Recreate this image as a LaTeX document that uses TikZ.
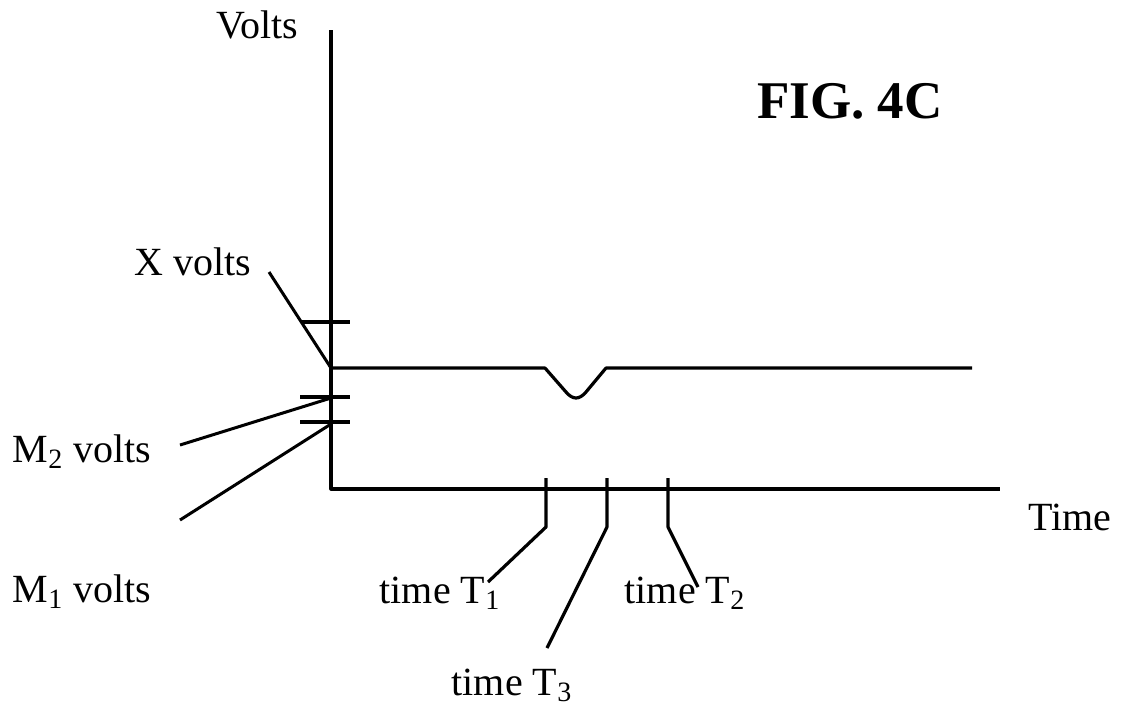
\documentclass[tikz,border=0pt]{standalone}
\usepackage{fontspec}
\setmainfont{Liberation Serif}
\usetikzlibrary{positioning}

\begin{document}
\begin{tikzpicture}[x=0.5pt, y=-0.5pt,
    curve/.style={line width=1.6pt, line join=round},
    leader/.style={line width=1.5pt},
    lbl/.style={font=\fontsize{20}{23}\selectfont, inner sep=0pt, anchor=base},
    title/.style={font=\fontsize{26.5}{30}\selectfont\bfseries, inner sep=0pt, anchor=base}]

\useasboundingbox (0,0) rectangle (1122,709);

\coordinate (origin) at (331,489);
\coordinate (ytop) at (331,30);
\coordinate (xend) at (1000,489);

\node [lbl] (volts) at (257,38) {Volts};
\node [lbl] (time) at (1070,530) {Time};
\node [title] (fig) at (850,118) {FIG. 4C};

\node [lbl] (xv) at (193,275) {X volts};
\node [lbl] (m2) at (82,462) {M\textsubscript{2} volts};
\node [lbl] (m1) at (82,602) {M\textsubscript{1} volts};

\node [lbl] (t1) at (440,603) {time T\textsubscript{1}};
\node [lbl] (t2) at (685,603) {time T\textsubscript{2}};
\node [lbl] (t3) at (512,695) {time T\textsubscript{3}};

\draw [curve] (ytop) -- (origin) -- (xend);

\draw [curve] (302,322) -- (350,322);
\draw [curve] (300,397) -- (350,397);
\draw [curve] (300,422) -- (350,422);

\coordinate (sig) at (331,368);
\draw [curve] (sig) -- (545,368) -- (566,392)
    .. controls (573,400) and (579,400) .. (586,392) -- (606,368) -- (972,368);

\coordinate (xvend) at (269,272);
\coordinate (m2end) at (180,445);
\coordinate (m1end) at (180,520);
\draw [leader] (xvend) -- (sig);
\draw [leader] (m2end) -- (331,398);
\draw [leader] (m1end) -- (331,424);

\coordinate (t1tick) at (546,527);
\coordinate (t3tick) at (607,527);
\coordinate (t2tick) at (668,527);
\draw [curve] (546,478) -- (t1tick) -- (488,582);
\draw [curve] (607,478) -- (t3tick) -- (547,648);
\draw [curve] (668,478) -- (t2tick) -- (698,587);

\end{tikzpicture}
\end{document}
